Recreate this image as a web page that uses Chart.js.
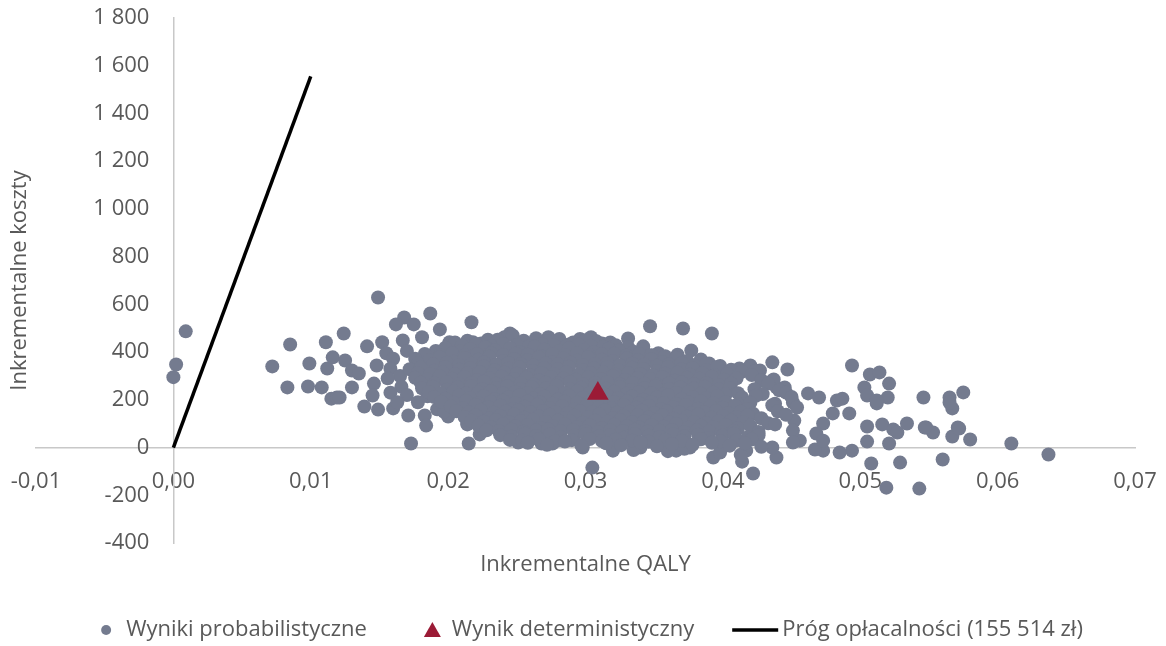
<!DOCTYPE html>
<html lang="pl">
<head>
    <meta charset="UTF-8">
    <title>Płaszczyzna opłacalności</title>
    <script src="https://cdn.jsdelivr.net/npm/chart.js"></script>
    <style>
        html, body {
            margin: 0;
            padding: 0;
            background: #ffffff;
        }
        #wrap {
            width: 1166px;
            height: 646px;
        }
    </style>
</head>
<body>
    <div id="wrap"><canvas id="ceChart"></canvas></div>

    <script>
        // osie
        const qalyMin = -0.01, qalyMax = 0.07, qalyStep = 0.01;
        const costMin = -400, costMax = 1800, costStep = 200;
        const xTitle = 'Inkrementalne QALY';
        const yTitle = 'Inkrementalne koszty';

        // legenda
        const legendLabels = ['Wyniki probabilistyczne', 'Wynik deterministyczny', 'Próg opłacalności (155 514 zł)'];

        // próg opłacalności: odcinek od (0, 0)
        const thresholdQaly = [0, 0.01];
        const thresholdCost = [0, 1555.14];

        // wynik deterministyczny [QALY, koszt]
        const deterministic = [0.0309, 227];

        // wyniki probabilistyczne [QALY, koszt]
        const probabilistic = [
            [0.0000, 295], [0.0002, 348], [0.0009, 487],
            [0.0072, 340], [0.0085, 432], [0.0083, 252], [0.0098, 256], [0.0099, 352], [0.0108, 252],
            [0.0111, 441], [0.0112, 331], [0.0115, 205], [0.0119, 210], [0.0124, 478], [0.0116, 378],
            [0.0125, 365], [0.0130, 252], [0.0130, 323], [0.0121, 210],
            [0.0149, 629], [0.0168, 545], [0.0162, 516], [0.0175, 516], [0.0187, 562], [0.0217, 525],
            [0.0141, 424], [0.0152, 441], [0.0167, 449], [0.0181, 462], [0.0194, 495], [0.0148, 344],
            [0.0135, 310], [0.0146, 268], [0.0145, 218], [0.0139, 172], [0.0149, 159], [0.0160, 164],
            [0.0171, 134], [0.0183, 134], [0.0184, 92], [0.0214, 101], [0.0173, 17], [0.0215, 17],
            [0.0214, 97], [0.0223, 55], [0.0251, 21], [0.0268, 17], [0.0276, 17], [0.0298, 0],
            [0.0305, -84], [0.0320, -13],
            [0.0155, 395], [0.0160, 372], [0.0158, 330], [0.0165, 300], [0.0170, 405], [0.0156, 290],
            [0.0166, 255], [0.0158, 230], [0.0170, 220], [0.0163, 190], [0.0178, 190], [0.0185, 215],
            [0.0192, 160], [0.0200, 130], [0.0197, 150],
            [0.0347, 508], [0.0371, 499], [0.0342, 424], [0.0331, 457], [0.0326, 403], [0.0377, 407],
            [0.0304, 462], [0.0288, 432], [0.0273, 462], [0.0256, 428], [0.0312, 436], [0.0390, 352],
            [0.0352, 373], [0.0245, 478], [0.0241, 462], [0.0201, 441], [0.0218, 441],
            [0.0392, 478], [0.0436, 357], [0.0447, 327], [0.0494, 344], [0.0507, 306], [0.0514, 315],
            [0.0521, 268], [0.0503, 252], [0.0505, 218], [0.0512, 185], [0.0520, 210], [0.0516, 97],
            [0.0505, 88], [0.0462, 227], [0.0470, 210], [0.0483, 197], [0.0487, 205], [0.0492, 143],
            [0.0480, 143], [0.0473, 101], [0.0452, 113], [0.0451, 189], [0.0439, 252], [0.0445, 252],
            [0.0436, 280], [0.0420, 344], [0.0427, 323], [0.0412, 331], [0.0403, 315],
            [0.0546, 210], [0.0565, 210], [0.0575, 231], [0.0567, 164], [0.0571, 84], [0.0548, 84],
            [0.0534, 101], [0.0524, 76],
            [0.0422, -109], [0.0414, -59], [0.0439, -42], [0.0393, -42], [0.0508, -67], [0.0519, -168],
            [0.0543, -172], [0.0529, -63], [0.0560, -50], [0.0637, -29], [0.0610, 17], [0.0580, 34],
            [0.0567, 46], [0.0572, 80], [0.0553, 63], [0.0547, 84], [0.0527, 63], [0.0521, 17],
            [0.0505, 25], [0.0494, -13], [0.0485, -21], [0.0473, -13], [0.0467, -8], [0.0565, 189],
            [0.0512, 197], [0.0468, 59], [0.0473, 29], [0.0456, 29], [0.0451, 71], [0.0340, 0],
            [0.0366, -13], [0.0376, 0], [0.0398, -21], [0.0417, -13], [0.0436, 0], [0.0451, 21],
            [0.0335, -10], [0.0360, -15], [0.0372, -5], [0.0413, -30],
            // gęsty rdzeń chmury
            [0.0205, 440], [0.0214, 448], [0.0224, 436], [0.0229, 452], [0.0236, 452], [0.0247, 470],
            [0.0255, 448], [0.0264, 458], [0.0272, 445], [0.0281, 455], [0.0291, 440], [0.0296, 455],
            [0.0300, 450], [0.0308, 445], [0.0318, 440],
            [0.0210, 428], [0.0220, 432], [0.0231, 426], [0.0240, 434], [0.0250, 430], [0.0259, 425],
            [0.0268, 433], [0.0277, 428], [0.0286, 424], [0.0295, 431], [0.0304, 427], [0.0313, 422],
            [0.0322, 429], [0.0331, 420],
            [0.0191, 405], [0.0198, 418], [0.0209, 402], [0.0216, 412], [0.0227, 420], [0.0234, 408],
            [0.0245, 415], [0.0252, 400], [0.0263, 422], [0.0270, 410], [0.0281, 404], [0.0288, 416],
            [0.0299, 409], [0.0306, 398], [0.0317, 414], [0.0324, 406], [0.0335, 401], [0.0342, 412],
            [0.0353, 395],
            [0.0183, 392], [0.0194, 388], [0.0203, 394], [0.0212, 386], [0.0221, 391], [0.0231, 395],
            [0.0240, 387], [0.0249, 393], [0.0258, 389], [0.0267, 384], [0.0276, 392], [0.0285, 388],
            [0.0294, 395], [0.0303, 386], [0.0312, 390], [0.0321, 393], [0.0330, 385], [0.0339, 391],
            [0.0348, 387], [0.0358, 383], [0.0367, 389],
            [0.0176, 372], [0.0186, 365], [0.0194, 378], [0.0204, 360], [0.0212, 375], [0.0222, 368],
            [0.0230, 380], [0.0240, 362], [0.0248, 371], [0.0258, 366], [0.0266, 377], [0.0276, 359],
            [0.0284, 373], [0.0294, 364], [0.0302, 379], [0.0312, 368], [0.0320, 361], [0.0330, 374],
            [0.0338, 366], [0.0348, 370], [0.0356, 358], [0.0366, 376], [0.0374, 363], [0.0384, 369],
            [0.0178, 352], [0.0189, 348], [0.0199, 355], [0.0208, 346], [0.0217, 351], [0.0226, 356],
            [0.0235, 347], [0.0244, 353], [0.0253, 349], [0.0262, 344], [0.0271, 352], [0.0280, 348],
            [0.0289, 355], [0.0298, 346], [0.0307, 350], [0.0316, 354], [0.0325, 345], [0.0334, 351],
            [0.0343, 347], [0.0352, 343], [0.0361, 349], [0.0370, 353], [0.0379, 345], [0.0388, 350],
            [0.0398, 342],
            [0.0172, 328], [0.0180, 335], [0.0190, 322], [0.0198, 338], [0.0208, 326], [0.0216, 332],
            [0.0226, 340], [0.0234, 324], [0.0244, 330], [0.0252, 336], [0.0262, 321], [0.0270, 333],
            [0.0280, 327], [0.0288, 339], [0.0298, 325], [0.0306, 331], [0.0316, 337], [0.0324, 323],
            [0.0334, 334], [0.0342, 329], [0.0352, 320], [0.0360, 336], [0.0370, 328], [0.0378, 333],
            [0.0388, 324], [0.0396, 338], [0.0406, 326], [0.0414, 318], [0.0424, 322],
            [0.0178, 312], [0.0187, 308], [0.0196, 315], [0.0205, 306], [0.0214, 311], [0.0223, 316],
            [0.0232, 307], [0.0241, 313], [0.0250, 309], [0.0259, 304], [0.0268, 312], [0.0277, 308],
            [0.0286, 315], [0.0295, 306], [0.0304, 310], [0.0313, 314], [0.0322, 305], [0.0331, 311],
            [0.0340, 307], [0.0349, 303], [0.0358, 309], [0.0367, 313], [0.0376, 305], [0.0385, 310],
            [0.0394, 302], [0.0403, 308], [0.0421, 304],
            [0.0176, 292], [0.0185, 285], [0.0194, 298], [0.0203, 288], [0.0212, 295], [0.0221, 282],
            [0.0230, 290], [0.0239, 297], [0.0248, 286], [0.0257, 293], [0.0266, 281], [0.0275, 296],
            [0.0284, 289], [0.0293, 284], [0.0302, 294], [0.0311, 287], [0.0320, 299], [0.0329, 283],
            [0.0338, 291], [0.0347, 286], [0.0356, 295], [0.0365, 280], [0.0374, 292], [0.0383, 288],
            [0.0392, 297], [0.0401, 284], [0.0410, 290], [0.0428, 282], [0.0437, 285],
            [0.0180, 272], [0.0190, 268], [0.0199, 275], [0.0208, 266], [0.0217, 271], [0.0226, 276],
            [0.0235, 267], [0.0244, 273], [0.0253, 269], [0.0262, 264], [0.0271, 272], [0.0280, 268],
            [0.0289, 275], [0.0298, 266], [0.0307, 270], [0.0316, 274], [0.0325, 265], [0.0334, 271],
            [0.0343, 267], [0.0352, 263], [0.0361, 269], [0.0370, 273], [0.0379, 265], [0.0388, 270],
            [0.0397, 262], [0.0406, 268], [0.0433, 268],
            [0.0181, 248], [0.0189, 255], [0.0199, 242], [0.0207, 252], [0.0217, 258], [0.0225, 245],
            [0.0235, 250], [0.0243, 257], [0.0253, 244], [0.0261, 253], [0.0271, 247], [0.0279, 259],
            [0.0289, 243], [0.0297, 251], [0.0307, 256], [0.0315, 246], [0.0325, 254], [0.0333, 241],
            [0.0343, 249], [0.0351, 258], [0.0361, 245], [0.0369, 252], [0.0379, 247], [0.0387, 255],
            [0.0397, 243], [0.0405, 250], [0.0423, 244], [0.0441, 240],
            [0.0186, 232], [0.0195, 228], [0.0204, 235], [0.0213, 226], [0.0222, 231], [0.0231, 236],
            [0.0240, 227], [0.0249, 233], [0.0258, 229], [0.0267, 224], [0.0276, 232], [0.0285, 228],
            [0.0294, 235], [0.0303, 226], [0.0312, 230], [0.0321, 234], [0.0330, 225], [0.0339, 231],
            [0.0348, 227], [0.0357, 223], [0.0366, 229], [0.0375, 233], [0.0384, 225], [0.0393, 230],
            [0.0402, 222], [0.0411, 228], [0.0429, 224], [0.0446, 230],
            [0.0190, 212], [0.0198, 205], [0.0208, 218], [0.0216, 208], [0.0226, 215], [0.0234, 202],
            [0.0244, 211], [0.0252, 219], [0.0262, 206], [0.0270, 213], [0.0280, 201], [0.0288, 216],
            [0.0298, 209], [0.0306, 204], [0.0316, 217], [0.0324, 207], [0.0334, 214], [0.0342, 200],
            [0.0352, 210], [0.0360, 218], [0.0370, 203], [0.0378, 212], [0.0388, 207], [0.0396, 215],
            [0.0414, 210], [0.0424, 217], [0.0450, 212],
            [0.0195, 192], [0.0204, 188], [0.0213, 195], [0.0222, 186], [0.0231, 191], [0.0240, 196],
            [0.0249, 187], [0.0258, 193], [0.0267, 189], [0.0276, 184], [0.0285, 192], [0.0294, 188],
            [0.0303, 195], [0.0312, 186], [0.0321, 190], [0.0330, 194], [0.0339, 185], [0.0348, 191],
            [0.0357, 187], [0.0366, 183], [0.0375, 189], [0.0384, 193], [0.0393, 185], [0.0402, 190],
            [0.0411, 182], [0.0420, 188], [0.0438, 184],
            [0.0202, 172], [0.0211, 165], [0.0220, 178], [0.0229, 168], [0.0238, 175], [0.0247, 162],
            [0.0256, 171], [0.0265, 179], [0.0274, 166], [0.0283, 173], [0.0292, 161], [0.0301, 176],
            [0.0310, 169], [0.0319, 164], [0.0328, 177], [0.0337, 167], [0.0346, 174], [0.0355, 160],
            [0.0364, 170], [0.0373, 178], [0.0382, 163], [0.0391, 172], [0.0400, 167], [0.0409, 175],
            [0.0418, 162], [0.0436, 177], [0.0454, 168],
            [0.0206, 152], [0.0215, 148], [0.0224, 155], [0.0233, 146], [0.0242, 151], [0.0251, 156],
            [0.0260, 147], [0.0269, 153], [0.0278, 149], [0.0287, 144], [0.0296, 152], [0.0305, 148],
            [0.0314, 155], [0.0323, 146], [0.0332, 150], [0.0341, 154], [0.0350, 145], [0.0359, 151],
            [0.0368, 147], [0.0377, 143], [0.0386, 149], [0.0395, 153], [0.0404, 145], [0.0413, 150],
            [0.0422, 142], [0.0440, 152],
            [0.0212, 128], [0.0220, 135], [0.0230, 122], [0.0238, 132], [0.0248, 138], [0.0256, 125],
            [0.0266, 130], [0.0274, 137], [0.0284, 124], [0.0292, 133], [0.0302, 127], [0.0310, 139],
            [0.0320, 123], [0.0328, 131], [0.0338, 136], [0.0346, 126], [0.0356, 134], [0.0364, 121],
            [0.0374, 129], [0.0382, 138], [0.0392, 125], [0.0400, 132], [0.0410, 127], [0.0418, 135],
            [0.0428, 123], [0.0446, 137],
            [0.0217, 112], [0.0226, 108], [0.0235, 115], [0.0244, 106], [0.0253, 111], [0.0262, 116],
            [0.0271, 107], [0.0280, 113], [0.0289, 109], [0.0298, 104], [0.0307, 112], [0.0316, 108],
            [0.0325, 115], [0.0334, 106], [0.0343, 110], [0.0352, 114], [0.0361, 105], [0.0370, 111],
            [0.0379, 107], [0.0388, 103], [0.0397, 109], [0.0406, 113], [0.0415, 105], [0.0433, 102],
            [0.0222, 92], [0.0231, 85], [0.0240, 98], [0.0249, 88], [0.0258, 95], [0.0267, 82],
            [0.0276, 90], [0.0285, 97], [0.0294, 86], [0.0303, 93], [0.0312, 81], [0.0321, 96],
            [0.0330, 89], [0.0339, 84], [0.0348, 94], [0.0357, 87], [0.0366, 99], [0.0375, 83],
            [0.0384, 91], [0.0393, 86], [0.0402, 95], [0.0411, 80], [0.0420, 92], [0.0438, 97],
            [0.0228, 72], [0.0237, 68], [0.0246, 75], [0.0255, 66], [0.0264, 71], [0.0273, 76],
            [0.0282, 67], [0.0291, 73], [0.0300, 69], [0.0309, 64], [0.0318, 72], [0.0327, 68],
            [0.0336, 75], [0.0345, 66], [0.0354, 70], [0.0363, 74], [0.0372, 65], [0.0381, 71],
            [0.0390, 67], [0.0399, 63], [0.0408, 69], [0.0426, 65],
            [0.0238, 52], [0.0246, 45], [0.0256, 58], [0.0264, 48], [0.0274, 55], [0.0282, 42],
            [0.0292, 50], [0.0300, 57], [0.0310, 46], [0.0318, 53], [0.0328, 41], [0.0336, 56],
            [0.0346, 49], [0.0354, 44], [0.0364, 57], [0.0372, 47], [0.0382, 54], [0.0390, 40],
            [0.0400, 50], [0.0408, 58], [0.0418, 43], [0.0426, 52],
            [0.0245, 32], [0.0254, 28], [0.0266, 35], [0.0278, 26], [0.0290, 31], [0.0303, 36],
            [0.0312, 27], [0.0322, 33], [0.0334, 29], [0.0346, 24], [0.0358, 32], [0.0370, 28],
            [0.0384, 35], [0.0398, 26], [0.0410, 30], [0.0421, 34],
            [0.0258, 20], [0.0272, 12], [0.0285, 25], [0.0297, 8], [0.0315, 18], [0.0326, 10],
            [0.0340, 22], [0.0352, 5], [0.0363, 15], [0.0378, 12], [0.0392, 20], [0.0405, 8],
            [0.0416, 18], [0.0428, 3]
        ];

        // kolory i czcionka
        const pointColor = '#747b8f';
        const markerColor = '#9b1b36';
        const textColor = '#595959';
        const axisColor = '#c8c8c8';
        const fontFamily = '"Open Sans", sans-serif';
        const fontSize = 22;
        const yLabelPad = 24;

        function fmtCost(v) {
            const s = String(Math.abs(Math.round(v))).replace(/\B(?=(\d{3})+(?!\d))/g, ' ');
            return (v < 0 ? '-' : '') + s;
        }

        function fmtQaly(v) {
            if (Math.abs(v) < 1e-9) v = 0;
            return v.toFixed(2).replace('.', ',');
        }

        // osie ustawione w zerze nie zabierają miejsca na wykresie
        function flatAxis(s) {
            if (s.axis === 'x') s.height = 0; else s.width = 0;
            s.paddingLeft = s.paddingRight = s.paddingTop = s.paddingBottom = 0;
        }

        // przy osi Y w zerze Chart.js pomija ticks.padding, więc odsuwamy etykiety ręcznie
        const yLabelGap = {
            id: 'yLabelGap',
            beforeDraw(chart) {
                const items = chart.scales.y.getLabelItems(chart.chartArea);
                items.forEach(it => {
                    if (!it._moved) {
                        it.options.translation[0] -= yLabelPad;
                        it._moved = true;
                    }
                });
            }
        };

        // tytuły osi i legenda rysowane ręcznie
        const overlay = {
            id: 'overlay',
            afterDraw(chart) {
                const { ctx, chartArea: a } = chart;
                ctx.save();
                ctx.fillStyle = textColor;
                ctx.font = fontSize + 'px ' + fontFamily;
                ctx.textAlign = 'center';
                ctx.textBaseline = 'middle';
                ctx.fillText(xTitle, (a.left + a.right) / 2, a.bottom + 22);

                ctx.save();
                ctx.translate(20, (a.top + a.bottom) / 2);
                ctx.rotate(-Math.PI / 2);
                ctx.fillText(yTitle, 0, 0);
                ctx.restore();

                // legenda
                const symW = [10, 17, 46];
                const symGap = [15, 11, 4];
                const itemGap = [57, 38];
                const widths = legendLabels.map(t => ctx.measureText(t).width);
                let total = 0;
                for (let i = 0; i < 3; i++) {
                    total += symW[i] + symGap[i] + widths[i];
                    if (i < 2) total += itemGap[i];
                }
                let x = 592 - total / 2;
                const y = a.bottom + 87;
                ctx.textAlign = 'left';
                for (let i = 0; i < 3; i++) {
                    const cx = x + symW[i] / 2;
                    if (i === 0) {
                        ctx.fillStyle = pointColor;
                        ctx.beginPath();
                        ctx.arc(cx, y, 5, 0, Math.PI * 2);
                        ctx.fill();
                    } else if (i === 1) {
                        ctx.fillStyle = markerColor;
                        ctx.beginPath();
                        ctx.moveTo(cx, y - 8);
                        ctx.lineTo(cx + 8.5, y + 7);
                        ctx.lineTo(cx - 8.5, y + 7);
                        ctx.closePath();
                        ctx.fill();
                    } else {
                        ctx.strokeStyle = '#000000';
                        ctx.lineWidth = 3.5;
                        ctx.beginPath();
                        ctx.moveTo(x, y);
                        ctx.lineTo(x + symW[i], y);
                        ctx.stroke();
                    }
                    x += symW[i] + symGap[i];
                    ctx.fillStyle = textColor;
                    ctx.fillText(legendLabels[i], x, y);
                    x += widths[i];
                    if (i < 2) x += itemGap[i];
                }
                ctx.restore();
            }
        };

        const ctx = document.getElementById('ceChart').getContext('2d');
        const tickFont = { family: fontFamily, size: fontSize };

        new Chart(ctx, {
            type: 'scatter',
            data: {
                datasets: [
                    {
                        label: legendLabels[1],
                        data: [{ x: deterministic[0], y: deterministic[1] }],
                        pointStyle: 'triangle',
                        pointRadius: 12.5,
                        backgroundColor: markerColor,
                        borderWidth: 0,
                        order: 0
                    },
                    {
                        label: legendLabels[2],
                        type: 'line',
                        data: thresholdQaly.map((q, i) => ({ x: q, y: thresholdCost[i] })),
                        borderColor: '#000000',
                        borderWidth: 3.5,
                        pointRadius: 0,
                        fill: false,
                        tension: 0,
                        order: 1
                    },
                    {
                        label: legendLabels[0],
                        data: probabilistic.map(p => ({ x: p[0], y: p[1] })),
                        pointStyle: 'circle',
                        pointRadius: 7,
                        backgroundColor: pointColor,
                        borderWidth: 0,
                        order: 2
                    }
                ]
            },
            options: {
                responsive: true,
                maintainAspectRatio: false,
                animation: false,
                layout: {
                    padding: { left: 36, right: 31, top: 18, bottom: 103 }
                },
                plugins: {
                    legend: { display: false },
                    tooltip: { enabled: false }
                },
                scales: {
                    x: {
                        type: 'linear',
                        min: qalyMin,
                        max: qalyMax,
                        position: { y: 0 },
                        grid: { display: false, drawTicks: false },
                        border: { display: true, color: axisColor, width: 1.5 },
                        ticks: {
                            stepSize: qalyStep,
                            padding: 21,
                            autoSkip: false,
                            maxRotation: 0,
                            color: textColor,
                            font: tickFont,
                            callback: v => fmtQaly(v)
                        },
                        afterFit: flatAxis
                    },
                    y: {
                        type: 'linear',
                        min: costMin,
                        max: costMax,
                        position: { x: 0 },
                        grid: { display: false, drawTicks: false },
                        border: { display: true, color: axisColor, width: 1.5 },
                        ticks: {
                            stepSize: costStep,
                            autoSkip: false,
                            color: textColor,
                            font: tickFont,
                            callback: v => fmtCost(v)
                        },
                        afterFit: flatAxis
                    }
                }
            },
            plugins: [yLabelGap, overlay]
        });
    </script>
</body>
</html>
